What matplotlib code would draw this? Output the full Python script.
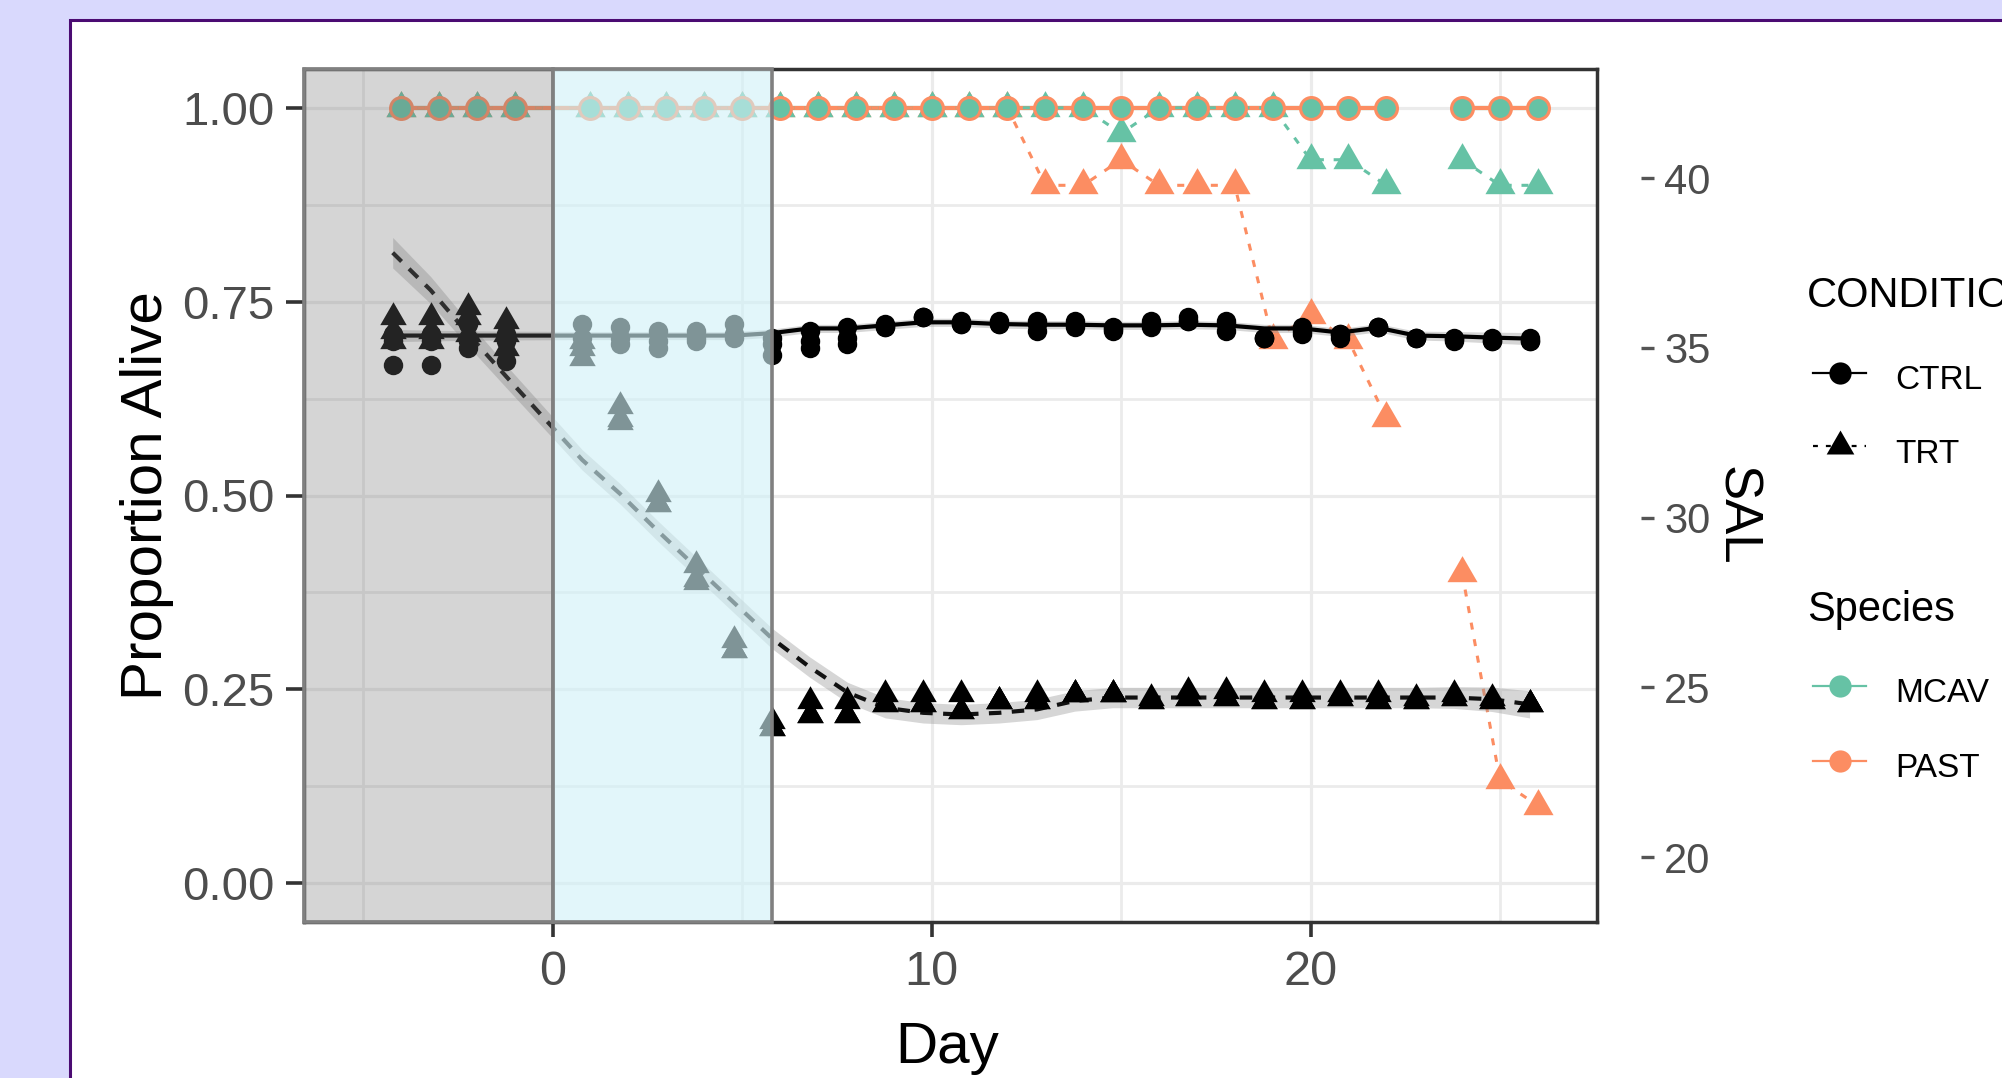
import numpy as np
import matplotlib
matplotlib.use("Agg")
import matplotlib.pyplot as plt
from matplotlib.lines import Line2D
from matplotlib.patches import Rectangle

plt.rcParams['font.family'] = ['Liberation Sans', 'DejaVu Sans']

nan = np.nan
# ---------------- data ----------------
days = [-4, -3, -2, -1, 1, 2, 3, 4, 5, 6, 7, 8, 9, 10, 11, 12, 13, 14, 15,
        16, 17, 18, 19, 20, 21, 22, 23, 24, 25, 26]

# Salinity (SAL, right axis), three replicate tanks per condition
ctrl_sal_r1 = [35.4, 35.4, 35.7, 35.4, 35.7, 35.6, 35.5, 35.5, 35.7, 35.3, 35.5, 35.6, 35.7, 35.9, 35.8,
               35.8, 35.8, 35.8, 35.6, 35.8, 35.9, 35.8, 35.3, 35.6, 35.4, 35.6, 35.3, 35.2, 35.3, 35.3]
ctrl_sal_r2 = [35.2, 35.2, 35.2, 35.2, 35.3, 35.3, 35.2, 35.3, 35.4, 35.1, 35.2, 35.3, 35.6, 35.9, 35.7,
               35.7, 35.7, 35.7, 35.55, 35.7, 35.8, 35.7, 35.3, 35.5, 35.4, 35.6, 35.3, 35.25, 35.2, 35.2]
ctrl_sal_r3 = [34.5, 34.5, 35.0, 34.6, 35.0, 35.1, 35.0, 35.2, 35.3, 34.8, 35.0, 35.1, 35.6, 35.9, 35.7,
               35.7, 35.5, 35.6, 35.5, 35.6, 35.8, 35.5, 35.3, 35.4, 35.3, 35.6, 35.3, 35.3, 35.2, 35.2]
trt_sal_r1 = [35.9, 35.9, 36.2, 35.8, 35.2, 33.3, 30.7, 28.6, 26.4, 24.0, 24.6, 24.6, 24.8, 24.8, 24.8,
              24.6, 24.8, 24.8, 24.8, 24.7, 24.9, 24.9, 24.8, 24.8, 24.8, 24.8, 24.7, 24.8, 24.7, 24.5]
trt_sal_r2 = [35.5, 35.5, 35.9, 35.4, 35.0, 32.9, 30.4, 28.2, 26.1, 23.8, 24.2, 24.2, 24.5, 24.5, 24.3,
              24.6, 24.6, 24.8, 24.8, 24.6, 24.7, 24.7, 24.6, 24.6, 24.7, 24.6, 24.6, 24.7, 24.6, 24.5]
trt_sal_r3 = [35.2, 35.2, 35.4, 35.0, 34.7, 32.8, 30.4, 28.1, 26.1, 23.8, 24.2, 24.2, 24.5, 24.5, 24.3,
              24.6, 24.6, 24.8, 24.8, 24.6, 24.7, 24.7, 24.6, 24.6, 24.7, 24.6, 24.6, 24.7, 24.6, 24.5]
# fitted salinity trends and their standard errors
ctrl_sal_fit = [35.36, 35.36, 35.36, 35.36, 35.36, 35.36, 35.36, 35.36, 35.36, 35.43, 35.57, 35.57, 35.66,
                35.75, 35.75, 35.70, 35.68, 35.68, 35.66, 35.66, 35.68, 35.66, 35.57, 35.57, 35.45, 35.59,
                35.36, 35.34, 35.30, 35.27]
ctrl_sal_se = [0.18, 0.16, 0.14, 0.13, 0.12, 0.12, 0.12, 0.12, 0.12, 0.12, 0.12, 0.12, 0.12, 0.12, 0.12,
               0.12, 0.12, 0.12, 0.12, 0.12, 0.12, 0.12, 0.12, 0.12, 0.12, 0.12, 0.13, 0.14, 0.16, 0.18]
trt_sal_fit = [37.8, 36.7, 35.4, 34.15, 31.7, 30.7, 29.6, 28.55, 27.5, 26.45, 25.6, 24.85, 24.4, 24.25,
               24.2, 24.25, 24.35, 24.6, 24.7, 24.7, 24.7, 24.7, 24.7, 24.7, 24.7, 24.7, 24.7, 24.7,
               24.65, 24.5]
trt_sal_se = [0.45, 0.4, 0.36, 0.33, 0.3, 0.3, 0.3, 0.3, 0.3, 0.3, 0.3, 0.3, 0.3, 0.3, 0.3,
              0.3, 0.3, 0.3, 0.3, 0.3, 0.3, 0.3, 0.3, 0.3, 0.3, 0.3, 0.3, 0.32, 0.36, 0.4]

# Proportion alive (left axis) per species and condition
mcav_ctrl = [1, 1, 1, 1, 1, 1, 1, 1, 1, 1, 1, 1, 1, 1, 1, 1, 1, 1, 1, 1, 1, 1, 1, 1, 1, 1, nan, 1, 1, 1]
past_ctrl = [1, 1, 1, 1, 1, 1, 1, 1, 1, 1, 1, 1, 1, 1, 1, 1, 1, 1, 1, 1, 1, 1, 1, 1, 1, 1, nan, 1, 1, 1]
mcav_trt = [1, 1, 1, 1, 1, 1, 1, 1, 1, 1, 1, 1, 1, 1, 1, 1, 1, 1, 0.967, 1, 1, 1, 1, 0.933, 0.933, 0.9,
            nan, 0.933, 0.9, 0.9]
past_trt = [1, 1, 1, 1, 1, 1, 1, 1, 1, 1, 1, 1, 1, 1, 1, 1, 0.9, 0.9, 0.933, 0.9, 0.9, 0.9, 0.7, 0.733,
            0.7, 0.6, nan, 0.4, 0.133, 0.1]

# experimental phases (Day)
acclimation_end = 0
ramp_end = 5.8

species = ["MCAV", "PAST"]
conditions = ["CTRL", "TRT"]
y_ticks = [0.00, 0.25, 0.50, 0.75, 1.00]
y_ticklabels = ["0.00", "0.25", "0.50", "0.75", "1.00"]
x_ticks = [0, 10, 20]
sal_ticks = [20, 25, 30, 35, 40]

# ---------------- style ----------------
W, H, DPI = 2002, 1078, 100
C_MCAV = "#66C2A5"
C_PAST = "#FC8D62"
GRID = "#EBEBEB"
TXT_GREY = "#4D4D4D"
SAL_SHIFT = -0.22  # horizontal dodge of salinity points

fig = plt.figure(figsize=(W / DPI, H / DPI), dpi=DPI)
fig.patch.set_facecolor("#D9D9FD")


def fx(x):
    return x / W


def fy(y):
    return 1 - y / H


card = Rectangle((fx(70), -0.2), 1.5, fy(20.5) + 0.2, transform=fig.transFigure,
                 facecolor="white", edgecolor="#4B0B72", lw=2.2, zorder=-5)
fig.add_artist(card)

ax = fig.add_axes([fx(304), fy(922), fx(1597) - fx(304), fy(69) - fy(922)])
ax.set_facecolor("white")
ax.set_xlim(-6.56, 27.56)
ax.set_ylim(-0.05, 1.05)
ax.set_xticks(x_ticks)
ax.set_xticks([-5, 5, 15, 25], minor=True)
ax.set_yticks(y_ticks)
ax.set_yticklabels(y_ticklabels)
ax.set_yticks([0.125, 0.375, 0.625, 0.875], minor=True)
ax.grid(which="major", color=GRID, lw=2.3)
ax.grid(which="minor", color=GRID, lw=2.0)
ax.set_axisbelow(True)
for s in ax.spines.values():
    s.set_color("#333333")
    s.set_linewidth(2.5)
ax.tick_params(axis="both", which="minor", length=0)
ax.tick_params(axis="y", which="major", length=13, width=2.6, color="#333333",
               labelsize=34, labelcolor=TXT_GREY, pad=8)
ax.tick_params(axis="x", which="major", length=10.5, width=2.6, color="#333333",
               labelsize=35, labelcolor=TXT_GREY, pad=10)

# triangle marker (equilateral)
TRI = [(0, 0.577), (-0.5, -0.289), (0.5, -0.289)]

dd = np.array(days, dtype=float)
# coloured survival series
ax.plot(dd, mcav_ctrl, color=C_MCAV, lw=3.0, zorder=3)
ax.plot(dd, past_ctrl, color=C_PAST, lw=3.0, zorder=3)
ax.plot(dd, mcav_trt, color=C_MCAV, lw=2.2, ls=(0, (2.3, 3.2)), zorder=3)
ax.plot(dd, past_trt, color=C_PAST, lw=2.2, ls=(0, (2.3, 3.2)), zorder=3)
ax.plot(dd, past_trt, ls="none", marker=TRI, ms=25, color=C_PAST, mew=0, zorder=4)
ax.plot(dd, mcav_trt, ls="none", marker=TRI, ms=25, color=C_MCAV, mew=0, zorder=4)
ax.plot(dd, past_ctrl, ls="none", marker="o", ms=18, color=C_PAST, mew=0, zorder=5)
ax.plot(dd, mcav_ctrl, ls="none", marker="o", ms=13.5, color=C_MCAV, mew=0, zorder=6)

# salinity on secondary axis
ax2 = ax.twinx()
ax2.set_ylim(18.09, 43.21)
ax2.set_xlim(ax.get_xlim())
for s in ax2.spines.values():
    s.set_visible(False)
ax2.spines["right"].set_position(("outward", 32))
ax2.set_yticks(sal_ticks)
ax2.tick_params(axis="y", which="major", right=True, left=False, length=9.4, width=2.4,
                color="#555555", labelsize=30, labelcolor=TXT_GREY, pad=7)

xs = dd + SAL_SHIFT
ax2.fill_between(xs, np.array(trt_sal_fit) - np.array(trt_sal_se),
                 np.array(trt_sal_fit) + np.array(trt_sal_se),
                 color="#999999", alpha=0.4, lw=0, zorder=2)
ax2.fill_between(xs, np.array(ctrl_sal_fit) - np.array(ctrl_sal_se),
                 np.array(ctrl_sal_fit) + np.array(ctrl_sal_se),
                 color="#999999", alpha=0.4, lw=0, zorder=2)
for rep in (ctrl_sal_r1, ctrl_sal_r2, ctrl_sal_r3):
    ax2.plot(xs, rep, ls="none", marker="o", ms=14, color="black", mew=0, zorder=4)
for rep in (trt_sal_r1, trt_sal_r2, trt_sal_r3):
    ax2.plot(xs, rep, ls="none", marker=TRI, ms=22, color="black", mew=0, zorder=4)
ax2.plot(xs, ctrl_sal_fit, color="black", lw=3.0, zorder=3)
ax2.plot(xs, trt_sal_fit, color="#111111", lw=3.0, ls=(0, (3, 2.5)), zorder=3)

# phase shading, drawn over the data
trans = ax2.get_xaxis_transform()
xl = ax.get_xlim()[0]
ax2.add_patch(Rectangle((xl, 0), acclimation_end - xl, 1, transform=trans,
                        facecolor=(117 / 255, 117 / 255, 117 / 255, 0.30),
                        edgecolor="#808080", lw=2.6, zorder=10, clip_on=False))
ax2.add_patch(Rectangle((acclimation_end, 0), ramp_end - acclimation_end, 1, transform=trans,
                        facecolor=(208 / 255, 241 / 255, 247 / 255, 0.615),
                        edgecolor="#808080", lw=2.6, zorder=10, clip_on=False))

# axis titles
fig.text(fx(162), fy(496), "Proportion Alive", rotation=90, rotation_mode="anchor",
         ha="center", va="baseline", fontsize=42, color="black")
fig.text(fx(947), fy(1063), "Day", ha="center", va="baseline", fontsize=42, color="black")
fig.text(fx(1722), fy(516), "SAL", rotation=-90, rotation_mode="anchor",
         ha="center", va="baseline", fontsize=38, color="black")

# legends
fig.text(fx(1807), fy(307), "CONDITION", fontsize=30, va="baseline", ha="left")
fig.text(fx(1807), fy(621), "Species", fontsize=30, va="baseline", ha="left")
key_x0, key_x1, key_xm, lab_x = 1813, 1866, 1840, 1895
keys = [
    ("CTRL", 373, 389, "black", "-", "o", 16),
    ("TRT", 446, 463, "black", (0, (2.2, 3.6)), TRI, 23),
    ("MCAV", 686, 702, C_MCAV, "-", "o", 16),
    ("PAST", 761, 777, C_PAST, "-", "o", 16),
]
for label, ky, kb, col, ls, mk, ms in keys:
    fig.add_artist(Line2D([fx(key_x0), fx(key_x1)], [fy(ky), fy(ky)], transform=fig.transFigure,
                          color=col, lw=1.6, ls=ls))
    fig.add_artist(Line2D([fx(key_xm)], [fy(ky)], transform=fig.transFigure, color=col,
                          marker=mk, ms=ms, mew=0, ls="none"))
    fig.text(fx(lab_x), fy(kb), label, fontsize=24, va="baseline", ha="left")

fig.savefig("out.png", dpi=DPI, facecolor=fig.get_facecolor())
